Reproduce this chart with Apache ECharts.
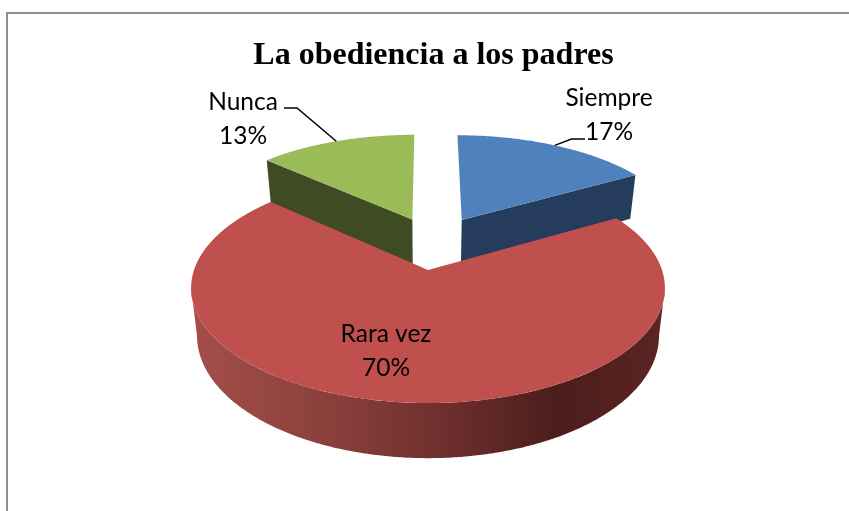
<!DOCTYPE html>
<html>
<head>
<meta charset="utf-8">
<style>html,body{margin:0;padding:0;background:#fff}#c{width:849px;height:511px}</style>
<script src="https://cdn.jsdelivr.net/npm/echarts@6/dist/echarts.min.js"></script>
</head>
<body>
<div id="c"></div>
<script>
// Data
const titleText = 'La obediencia a los padres';
const categories = ['Siempre', 'Rara vez', 'Nunca'];
const values = [16.7, 70, 13.3];

// Look
const topColors = ['#4F81BD', '#C0504D', '#9BBB59'];
const wallColors = ['#263C5D', null, '#3F4B23'];
const explode = [[0.155, 0.479], [0, 0], [-0.072, 0.485]];
const labelAt = [[609, 115.5], [386, 351], [243, 119.5]];
const leaders = [[[571.5, 139], [585, 139]], null, [[297, 108], [284, 108]]];
const stackOrder = [1, 3, 2];

// Perspective pie projection
const CX = 428, CY = 270, A = 234, B = 112.2, K = 0.1565, D_FRONT = 46.5, D_BACK = 50.5, BOTTOM_SCALE = 0.975;
const total = values.reduce((a, b) => a + b, 0);
const rad = d => d * Math.PI / 180;
const SIL = Math.acos(-K) * 180 / Math.PI; // rim angle of the widest point of the projected circle
function project(X, Y, depth) {
  const den = 1 + K * Y;
  let x = A * X / den, y = -B * Y / den;
  if (depth) { x *= BOTTOM_SCALE; y += depth / den; }
  return [CX + x, CY + y];
}
function rim(t, off, depth) {
  return project(off[0] + Math.sin(rad(t)), off[1] + Math.cos(rad(t)), depth);
}
function arc(t0, t1, off, depth) {
  const pts = [], n = Math.max(2, Math.ceil(Math.abs(t1 - t0) * 2));
  for (let i = 0; i <= n; i++) pts.push(rim(t0 + (t1 - t0) * i / n, off, depth));
  return pts;
}

function renderItem(params, api) {
  const i = params.dataIndex;
  const before = values.slice(0, i).reduce((a, b) => a + b, 0);
  const t0 = before / total * 360;
  const t1 = (before + api.value(0)) / total * 360;
  const off = explode[i];
  const z = stackOrder[i] * 10;
  const children = [];
  const apexT = project(off[0], off[1], 0);

  if (wallColors[i]) {
    // visible cut face of the back slices
    const t = i === 0 ? t1 : t0;
    children.push({
      type: 'polygon', z2: z,
      shape: { points: [apexT, rim(t, off, 0), rim(t, off, D_BACK), project(off[0], off[1], D_BACK)] },
      style: { fill: wallColors[i] }
    });
  } else {
    // outer wall of the front slice, between the two silhouette points of the rim
    const a0 = Math.max(t0, SIL), a1 = Math.min(t1, 360 - SIL);
    const pts = arc(a0, a1, off, 0).concat(arc(a1, a0, off, D_FRONT));
    children.push({
      type: 'polygon', z2: z,
      shape: { points: pts },
      style: {
        fill: {
          type: 'linear', x: 0, y: 0, x2: 1, y2: 0,
          colorStops: [
            { offset: 0, color: '#A54E4B' },
            { offset: 0.3, color: '#893F3B' },
            { offset: 0.55, color: '#6B2E2C' },
            { offset: 0.78, color: '#4B1D1B' },
            { offset: 1, color: '#5C2522' }
          ]
        }
      }
    });
  }
  children.push({
    type: 'polygon', z2: z + 1,
    shape: { points: [apexT].concat(arc(t0, t1, off, 0)) },
    style: { fill: topColors[i] }
  });

  // leader line from the rim at the slice's middle angle to its label
  if (leaders[i]) {
    children.push({
      type: 'polyline', z2: 50,
      shape: { points: [rim((t0 + t1) / 2, off, 0)].concat(leaders[i]) },
      style: { stroke: '#000', lineWidth: 1.5, fill: null }
    });
  }
  children.push({
    type: 'text', z2: 60,
    style: {
      text: categories[i] + '\n' + Math.round(api.value(0)) + '%',
      x: labelAt[i][0], y: labelAt[i][1],
      align: 'center', verticalAlign: 'middle',
      font: '24.5px Lato, sans-serif', lineHeight: 34, fill: '#000'
    }
  });
  return { type: 'group', children };
}

const chart = echarts.init(document.getElementById('c'), null, { renderer: 'canvas' });
chart.setOption({
  animation: false,
  backgroundColor: '#fff',
  title: {
    text: titleText, left: 428.5, top: 35, textAlign: 'center',
    textStyle: { fontFamily: '"Liberation Serif", serif', fontWeight: 'bold', fontSize: 32, color: '#000' }
  },
  graphic: [
    { type: 'polyline', shape: { points: [[7, 511], [7, 13], [849, 13]] },
      style: { stroke: '#8E8E8E', lineWidth: 2, fill: null } }
  ],
  series: [{
    type: 'custom', coordinateSystem: 'none', renderItem,
    data: values.map((v, i) => ({ name: categories[i], value: [v] }))
  }]
});
</script>
</body>
</html>
